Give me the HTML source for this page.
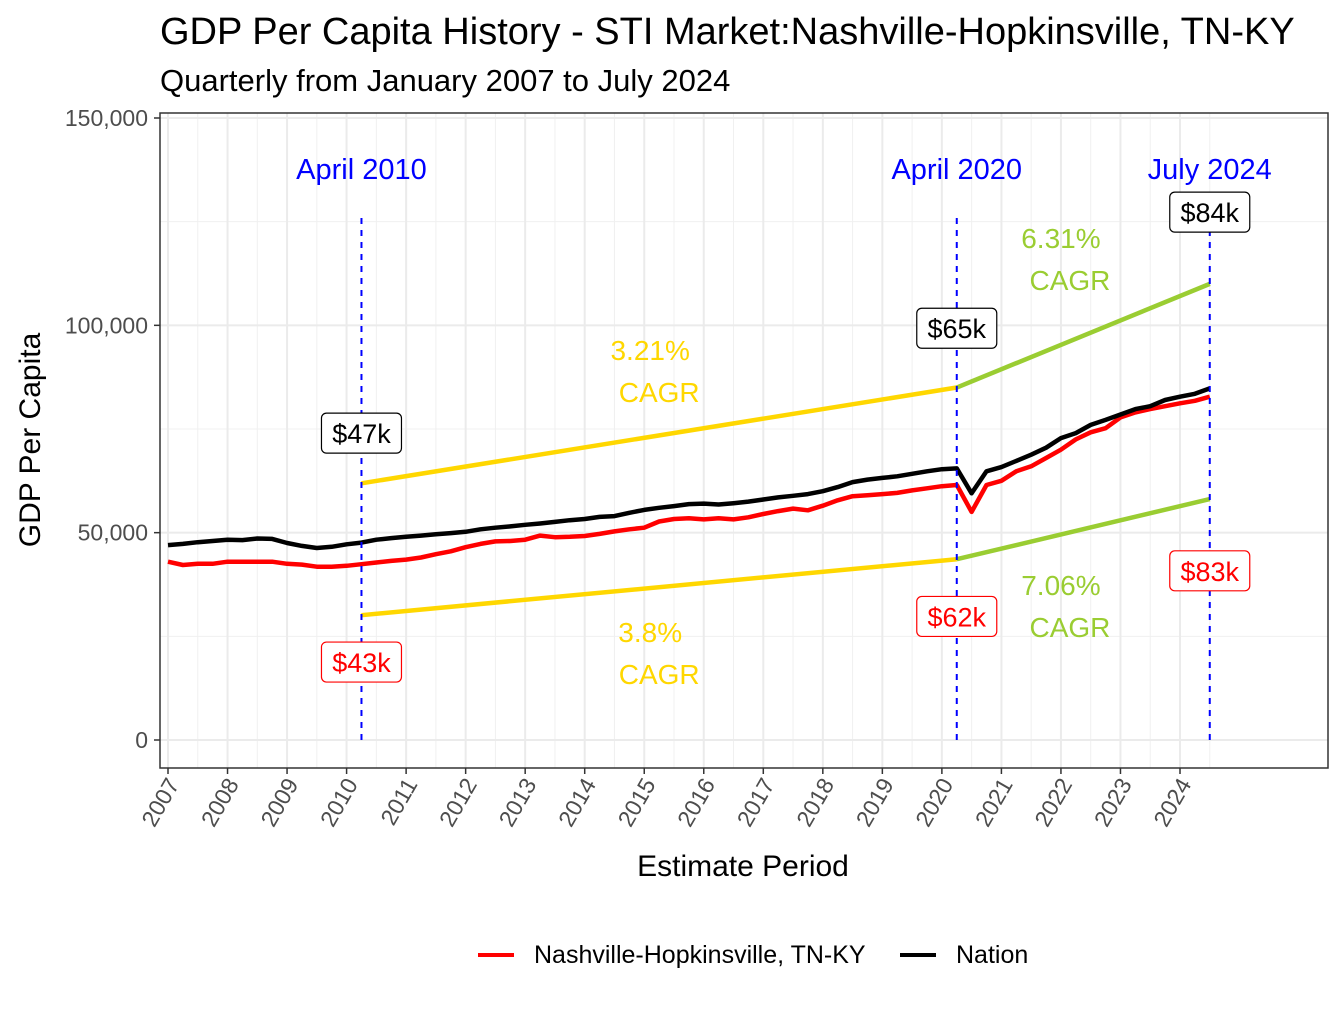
<!DOCTYPE html>
<html><head><meta charset="utf-8"><style>
body{margin:0;background:#fff;font-family:"Liberation Sans",Arial,sans-serif}
svg text{font-family:"Liberation Sans",Arial,sans-serif}
</style></head><body>
<svg id="c" width="1344" height="1008" xmlns="http://www.w3.org/2000/svg"></svg>
<script>
const years=[2007,2008,2009,2010,2011,2012,2013,2014,2015,2016,2017,2018,2019,2020,2021,2022,2023,2024];
const yTicks=[0,50000,100000,150000];
const yTickLabels=["0","50,000","100,000","150,000"];
const nation=[47000,47300,47700,48000,48300,48200,48600,48500,47500,46800,46300,46600,47200,47600,48300,48700,49000,49300,49600,49900,50200,50800,51200,51500,51900,52200,52600,53000,53300,53800,54000,54800,55500,56000,56400,56900,57000,56800,57100,57500,58000,58500,58900,59300,60000,61000,62200,62800,63200,63600,64200,64800,65300,65500,59500,64800,65800,67300,68800,70500,72800,74000,76000,77200,78500,79800,80500,82000,82800,83500,84800];
const market=[43000,42200,42500,42500,43000,43000,43000,43000,42500,42300,41800,41800,42000,42400,42800,43200,43500,44000,44800,45500,46500,47300,47900,48000,48300,49300,48900,49000,49200,49700,50300,50800,51200,52700,53300,53500,53200,53500,53200,53700,54500,55200,55800,55400,56500,57800,58800,59000,59300,59600,60200,60700,61200,61500,55000,61500,62500,64800,66000,68000,70000,72500,74200,75200,77800,79000,79800,80500,81200,81800,82800];
const markT=[2010.25,2020.25,2024.5];
const markNames=["April 2010","April 2020","July 2024"];
const upperCagr=[61900,85000,110000];
const lowerCagr=[30100,43600,58100];
const blackLabels=["$47k","$65k","$84k"];
const blackLabelVals=[74000,99300,127300];
const redLabels=["$43k","$62k","$83k"];
const redLabelVals=[18800,29800,40800];
const cagrTexts=["3.21%","6.31%","3.8%","7.06%"];
const cagrVals=[91600,118600,23600,35000];
const cagrT=[2015.1,2022.0,2015.1,2022.0];

const L=160,R=1328,T=113,B=768;
const X=t=>168+(t-2007)*(1180-168)/17;
const Y=v=>740-v*(740-118)/150000;
const s=document.getElementById('c');
const NS="http://www.w3.org/2000/svg";
function el(tag,a,name,txt){const e=document.createElementNS(NS,tag);for(const k in a)e.setAttribute(k,a[k]);


if(txt!=null)e.textContent=txt;s.appendChild(e);return e;}
el('rect',{x:L,y:T,width:R-L,height:B-T,fill:'#fff'},'plot-background');
for(let v=25000;v<=150000;v+=50000)el('line',{x1:L,x2:R,y1:Y(v),y2:Y(v),stroke:'#f0f0f0','stroke-width':1},'minor-gridline');
years.forEach(y=>el('line',{x1:X(y+0.5),x2:X(y+0.5),y1:T,y2:B,stroke:'#f0f0f0','stroke-width':1},'minor-gridline'));
yTicks.forEach(v=>el('line',{x1:L,x2:R,y1:Y(v),y2:Y(v),stroke:'#ebebeb','stroke-width':2},'major-gridline'));
years.forEach(y=>el('line',{x1:X(y),x2:X(y),y1:T,y2:B,stroke:'#ebebeb','stroke-width':2},'major-gridline'));
function path(arr,t0,col,w,name){let d='';arr.forEach((v,i)=>{d+=(i?'L':'M')+X(t0+i*0.25).toFixed(1)+','+Y(v).toFixed(1)});
el('path',{d:d,fill:'none',stroke:col,'stroke-width':w,'stroke-linejoin':'round'},name);}
el('line',{x1:X(markT[0]),y1:Y(upperCagr[0]),x2:X(markT[1]),y2:Y(upperCagr[1]),stroke:'#FFD700','stroke-width':4.5},'upper-cagr-line-1');
el('line',{x1:X(markT[1]),y1:Y(upperCagr[1]),x2:X(markT[2]),y2:Y(upperCagr[2]),stroke:'#9ACD32','stroke-width':4.5},'upper-cagr-line-2');
el('line',{x1:X(markT[0]),y1:Y(lowerCagr[0]),x2:X(markT[1]),y2:Y(lowerCagr[1]),stroke:'#FFD700','stroke-width':4.5},'lower-cagr-line-1');
el('line',{x1:X(markT[1]),y1:Y(lowerCagr[1]),x2:X(markT[2]),y2:Y(lowerCagr[2]),stroke:'#9ACD32','stroke-width':4.5},'lower-cagr-line-2');
path(market,2007,'#ff0000',4.5,'market-line');
path(nation,2007,'#000',4.5,'nation-line');
markT.forEach((t,i)=>{
el('line',{x1:X(t),x2:X(t),y1:218,y2:740,stroke:'#0000ff','stroke-width':2,'stroke-dasharray':'6,6'},'marker-line');
el('text',{x:X(t),y:179,'text-anchor':'middle','font-size':29,fill:'#0000ff'},'marker-label',markNames[i]);
[[blackLabels,blackLabelVals,'#000'],[redLabels,redLabelVals,'#ff0000']].forEach(([lb,vv,c])=>{
const cy=Y(vv[i]);
el('rect',{x:X(t)-40,y:cy-20,width:80,height:40,rx:5,fill:'#fff',stroke:c,'stroke-width':1.2},'value-label-box');
el('text',{x:X(t),y:cy+10,'text-anchor':'middle','font-size':27,fill:c},'value-label',lb[i]);});
});
cagrTexts.forEach((tx,i)=>{const c=i%2?'#9ACD32':'#FFD700';
el('text',{x:X(cagrT[i]),y:Y(cagrVals[i]),'text-anchor':'middle','font-size':28,fill:c},'cagr-value',tx);
el('text',{x:X(cagrT[i])+9,y:Y(cagrVals[i])+42,'text-anchor':'middle','font-size':28,fill:c},'cagr-label','CAGR');});
el('rect',{x:L,y:T,width:R-L,height:B-T,fill:'none',stroke:'#333','stroke-width':1.5},'plot-border');
yTicks.forEach((v,i)=>{el('line',{x1:L-6,x2:L,y1:Y(v),y2:Y(v),stroke:'#333','stroke-width':1.5},'y-tick');
el('text',{x:L-12,y:Y(v)+8,'text-anchor':'end','font-size':23,fill:'#4d4d4d'},'y-tick-label',yTickLabels[i]);});
years.forEach(y=>{el('line',{x1:X(y),x2:X(y),y1:B,y2:B+6,stroke:'#333','stroke-width':1.5},'x-tick');
el('text',{x:X(y)+12,y:B+16,'text-anchor':'end','font-size':23,fill:'#4d4d4d',transform:`rotate(-60 ${X(y)+12} ${B+16})`},'x-tick-label',String(y));});
el('text',{x:743,y:876,'text-anchor':'middle','font-size':30,fill:'#000'},'x-axis-title','Estimate Period');
el('text',{x:40,y:440,'text-anchor':'middle','font-size':30,fill:'#000',transform:'rotate(-90 40 440)'},'y-axis-title','GDP Per Capita');
el('text',{x:160,y:44,'font-size':38,fill:'#000'},'chart-title','GDP Per Capita History - STI Market:Nashville-Hopkinsville, TN-KY');
el('text',{x:160,y:91,'font-size':31,fill:'#000'},'chart-subtitle','Quarterly from January 2007 to July 2024');
el('line',{x1:478,x2:514,y1:955,y2:955,stroke:'#ff0000','stroke-width':4},'legend-key-market');
el('text',{x:534,y:963,'font-size':25,fill:'#000'},'legend-label-market','Nashville-Hopkinsville, TN-KY');
el('line',{x1:900,x2:936,y1:955,y2:955,stroke:'#000','stroke-width':4},'legend-key-nation');
el('text',{x:956,y:963,'font-size':25,fill:'#000'},'legend-label-nation','Nation');
</script>
</body></html>
